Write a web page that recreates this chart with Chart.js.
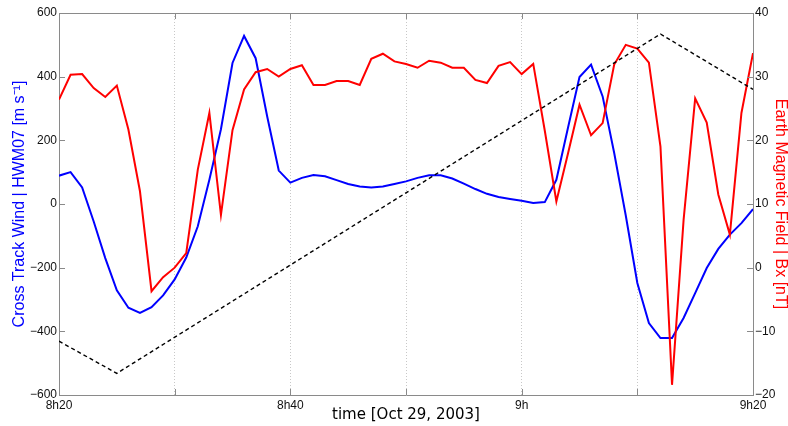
<!DOCTYPE html>
<html>
<head>
<meta charset="utf-8">
<title>Cross track wind and Bx</title>
<script src="https://cdn.jsdelivr.net/npm/chart.js@4.4.1/dist/chart.umd.min.js"></script>
<style>
  html, body { margin: 0; padding: 0; background: #fff; }
  #wrap { width: 788px; height: 426px; position: relative; }
</style>
</head>
<body>
<div id="wrap"><canvas id="windChart"></canvas></div>
<script>
// minutes after 8h20 (Oct 29, 2003), one sample per minute
const minutes = [
  0, 1, 2, 3, 4, 5, 6, 7, 8, 9, 10, 11, 12, 13, 14, 15, 16, 17, 18, 19,
  20, 21, 22, 23, 24, 25, 26, 27, 28, 29, 30, 31, 32, 33, 34, 35, 36, 37, 38, 39,
  40, 41, 42, 43, 44, 45, 46, 47, 48, 49, 50, 51, 52, 53, 54, 55, 56, 57, 58, 59, 60
];
const timeTicks = [0, 20, 40, 60];
const timeTickLabels = ['8h20', '8h40', '9h', '9h20'];

// cross track wind, HWM07 [m/s]
const windHWM07 = [
  89, 100, 52, -55, -170, -271, -326, -342, -324, -287,
  -237, -168, -70, 76, 235, 443, 528, 458, 275, 105,
  67, 82, 91, 87, 75, 63, 55, 52, 55, 63,
  71, 82, 90, 90, 80, 64, 47, 32, 22, 16,
  10, 3, 6, 76, 239, 399, 438, 338, 160, -36,
  -248, -374, -421, -421, -358, -280, -201, -141, -96, -60, -16
];

// earth magnetic field Bx [nT]
const bxField = [
  26.4, 30.3, 30.4, 28.2, 26.8, 28.6, 21.7, 12.0, -3.7, -1.5,
  0.0, 2.3, 15.4, 24.3, 8.3, 21.6, 28.0, 30.7, 31.2, 30.0,
  31.2, 31.8, 28.7, 28.7, 29.3, 29.3, 28.7, 32.8, 33.6, 32.4,
  32.0, 31.4, 32.5, 32.2, 31.4, 31.4, 29.5, 29.0, 31.7, 32.3,
  30.4, 32.0, 21.5, 10.4, 17.9, 25.6, 20.8, 22.7, 31.9, 35.0,
  34.4, 32.2, 19.0, -18.4, 7.5, 26.6, 22.8, 11.5, 5.2, 24.3, 33.7
];

// satellite track reference (dashed), on the left axis
const trackMinutes = [0, 5, 52, 60];
const trackLevel = [-431, -532, 534, 360];

const axisGrey = '#8a8a8a';
const tickFont = { family: '"Liberation Sans", Arial, sans-serif', size: 12 };
const minus = v => String(v).replace('-', '\u2212');

function pairs(xs, ys) {
  return xs.map((x, i) => ({ x: x, y: ys[i] }));
}

// short tick marks pointing into the plot box
const innerTicks = {
  id: 'innerTicks',
  afterDraw(chart) {
    const { ctx, chartArea: a, scales } = chart;
    const len = 6;
    ctx.save();
    ctx.strokeStyle = axisGrey;
    ctx.lineWidth = 1;
    ctx.beginPath();
    scales.x.ticks.forEach(t => {
      const px = Math.round(scales.x.getPixelForValue(t.value)) + 0.5;
      ctx.moveTo(px, a.bottom); ctx.lineTo(px, a.bottom - len);
      ctx.moveTo(px, a.top); ctx.lineTo(px, a.top + len);
    });
    scales.y.ticks.forEach(t => {
      const py = Math.round(scales.y.getPixelForValue(t.value)) + 0.5;
      ctx.moveTo(a.left, py); ctx.lineTo(a.left + len, py);
    });
    scales.y1.ticks.forEach(t => {
      const py = Math.round(scales.y1.getPixelForValue(t.value)) + 0.5;
      ctx.moveTo(a.right, py); ctx.lineTo(a.right - len, py);
    });
    ctx.stroke();
    ctx.restore();
  }
};

new Chart(document.getElementById('windChart'), {
  type: 'line',
  data: {
    datasets: [
      {
        label: 'track',
        data: pairs(trackMinutes, trackLevel),
        yAxisID: 'y',
        borderColor: '#000',
        borderWidth: 1.4,
        borderDash: [4, 3],
        pointRadius: 0,
        tension: 0
      },
      {
        label: 'Bx',
        data: pairs(minutes, bxField),
        yAxisID: 'y1',
        borderColor: '#ff0000',
        borderWidth: 2,
        pointRadius: 0,
        tension: 0
      },
      {
        label: 'HWM07',
        data: pairs(minutes, windHWM07),
        yAxisID: 'y',
        borderColor: '#0000ff',
        borderWidth: 2,
        pointRadius: 0,
        tension: 0
      }
    ]
  },
  options: {
    responsive: true,
    maintainAspectRatio: false,
    animation: false,
    layout: { padding: 0 },
    plugins: {
      legend: { display: false },
      tooltip: { enabled: false }
    },
    scales: {
      x: {
        type: 'linear',
        position: 'bottom',
        min: 0,
        max: 60,
        afterFit: s => { s.height = 31; },
        afterBuildTicks: s => {
          s.ticks = minutes.filter(m => m % 10 === 0).map(m => ({ value: m }));
        },
        ticks: {
          autoSkip: false,
          maxRotation: 0,
          padding: 3,
          color: '#111',
          font: tickFont,
          callback: v => {
            const i = timeTicks.indexOf(v);
            return i >= 0 ? timeTickLabels[i] : '';
          }
        },
        grid: { color: '#c8c8c8', lineWidth: 1, drawTicks: false },
        border: { color: axisGrey, width: 1, dash: [1, 2] },
        title: {
          display: true,
          text: 'time [Oct 29, 2003]',
          color: '#000',
          font: { family: '"DejaVu Sans", sans-serif', size: 15 },
          padding: { top: 0, bottom: 2 }
        }
      },
      xTop: {
        type: 'linear',
        position: 'top',
        min: 0,
        max: 60,
        afterFit: s => { s.height = 13; },
        ticks: { display: false },
        grid: { display: false, drawTicks: false },
        border: { color: axisGrey, width: 1 }
      },
      y: {
        position: 'left',
        min: -600,
        max: 600,
        afterFit: s => { s.width = 59; },
        ticks: {
          stepSize: 200,
          padding: 2,
          color: '#111',
          font: tickFont,
          callback: v => minus(v)
        },
        grid: { display: false, drawTicks: false },
        border: { color: axisGrey, width: 1 },
        title: {
          display: true,
          text: 'Cross Track Wind | HWM07 [m s\u207B\u00B9]',
          color: '#0000ff',
          font: { family: '"Liberation Sans", Arial, sans-serif', size: 16, lineHeight: 1.2 },
          padding: { top: 9.5, bottom: 0 }
        }
      },
      y1: {
        position: 'right',
        min: -20,
        max: 40,
        afterFit: s => { s.width = 35; },
        ticks: {
          stepSize: 10,
          padding: 2,
          color: '#111',
          font: tickFont,
          callback: v => minus(v)
        },
        grid: { display: false, drawTicks: false },
        border: { color: axisGrey, width: 1 },
        title: {
          display: true,
          text: 'Earth Magnetic Field | Bx [nT]',
          color: '#ff0000',
          font: { family: '"Liberation Sans", Arial, sans-serif', size: 16, lineHeight: 1 },
          padding: 0
        }
      }
    }
  },
  plugins: [innerTicks]
});
</script>
</body>
</html>
